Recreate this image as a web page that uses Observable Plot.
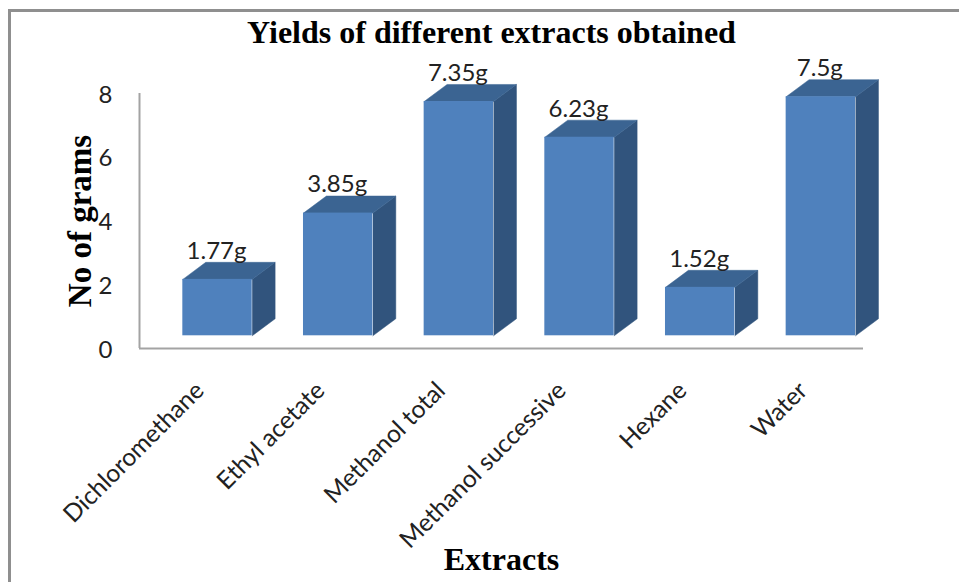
<!DOCTYPE html>
<html>
<head>
<meta charset="utf-8">
<script src="https://cdn.jsdelivr.net/npm/d3@7"></script>
<script src="https://cdn.jsdelivr.net/npm/@observablehq/plot@0.6"></script>
<style>
  html, body { margin: 0; padding: 0; background: #fff; overflow: hidden; }
  #chart { position: relative; width: 959px; height: 582px; }
  #chart svg { position: absolute; left: 0; top: 0; }
  #border { position: absolute; left: 8px; top: 9px; right: 0; bottom: 0;
            border-left: 3px solid #8f8f8f; border-top: 3px solid #8f8f8f; }
</style>
</head>
<body>
<div id="chart"><div id="border"></div></div>
<script>
const categories = ["Dichloromethane", "Ethyl acetate", "Methanol total", "Methanol successive", "Hexane", "Water"];
const grams = [1.77, 3.85, 7.35, 6.23, 1.52, 7.5];
const valueLabels = ["1.77g", "3.85g", "7.35g", "6.23g", "1.52g", "7.5g"];
const yTicks = [0, 2, 4, 6, 8];

// Extent of each bar's front face within its category slot, and the depth of the box.
const barStart = 0.359, barEnd = 0.934;
const depthX = 0.19, depthY = 0.535;
const floorLift = -12.7;

const bars = categories.map((name, i) => ({
  name, i, v: grams[i], label: valueLabels[i],
  x1: i + barStart, x2: i + barEnd
}));
const sideFaces = bars.flatMap((b) => [
  {bar: b.name, x: b.x2, y: 0},
  {bar: b.name, x: b.x2 + depthX, y: depthY},
  {bar: b.name, x: b.x2 + depthX, y: b.v + depthY},
  {bar: b.name, x: b.x2, y: b.v}
]);
const topFaces = bars.flatMap((b) => [
  {bar: b.name, x: b.x1, y: b.v},
  {bar: b.name, x: b.x1 + depthX, y: b.v + depthY},
  {bar: b.name, x: b.x2 + depthX, y: b.v + depthY},
  {bar: b.name, x: b.x2, y: b.v}
]);

const labelFont = "Lato, sans-serif";
const headFont = "'Liberation Serif', serif";

const plot = Plot.plot({
  width: 959,
  height: 582,
  marginLeft: 139,
  marginRight: 96,
  marginTop: 93,
  marginBottom: 234,
  x: {domain: [0, 6], axis: null},
  y: {domain: [0, 8], axis: null},
  style: {background: "transparent", overflow: "visible"},
  marks: [
    Plot.ruleX([0], {stroke: "#a3a3a3", strokeWidth: 2}),
    Plot.ruleY([0], {stroke: "#a3a3a3", strokeWidth: 2}),
    Plot.axisY({
      ticks: yTicks, tickSize: 0, tickPadding: 27, label: null, dy: 1.5,
      fontFamily: labelFont, fontSize: 24, fill: "#222"
    }),
    Plot.axisX({
      ticks: categories.map((_, i) => i + 0.5),
      tickFormat: (d) => categories[d - 0.5],
      tickSize: 0, tickPadding: 38, tickRotate: -45, label: null,
      fontFamily: labelFont, fontSize: 24.6, fill: "#222"
    }),
    Plot.line(sideFaces, {x: "x", y: "y", z: "bar", fill: "#31547d", stroke: "#31547d", strokeWidth: 0.5, dy: floorLift}),
    Plot.line(topFaces, {x: "x", y: "y", z: "bar", fill: "#3b6492", stroke: "#3b6492", strokeWidth: 0.5, dy: floorLift}),
    Plot.rect(bars, {x1: "x1", x2: "x2", y1: 0, y2: "v", fill: "#4f81bd", dy: floorLift}),
    Plot.text(bars, {
      x: (d) => (d.x1 + d.x2) / 2, y: "v", text: "label", dx: -1, dy: -41,
      fontFamily: labelFont, fontSize: 24, fill: "#222"
    }),
    Plot.text(["Yields of different extracts obtained"], {
      frameAnchor: "top", dx: -10, dy: -73,
      fontFamily: headFont, fontWeight: "bold", fontSize: 32, fill: "#000"
    }),
    Plot.text(["No of grams"], {
      frameAnchor: "left", textAnchor: "middle", dx: -59, rotate: -90,
      fontFamily: headFont, fontWeight: "bold", fontSize: 33, fill: "#000"
    }),
    Plot.text(["Extracts"], {
      frameAnchor: "bottom", dy: 221,
      fontFamily: headFont, fontWeight: "bold", fontSize: 32, fill: "#000"
    })
  ]
});
document.getElementById("chart").appendChild(plot);
</script>
</body>
</html>
